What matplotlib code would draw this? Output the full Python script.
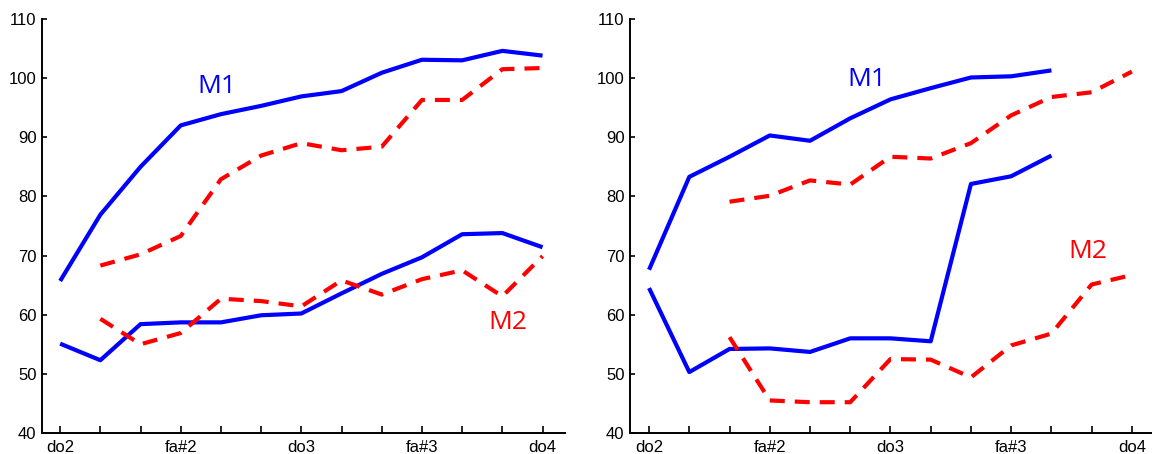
import matplotlib
matplotlib.use("Agg")
import matplotlib.pyplot as plt
import numpy as np

plt.rcParams['font.family'] = ['Liberation Sans', 'DejaVu Sans']

# whole-tone steps from do2 to do4
steps = np.arange(13)
tick_labels = ['do2', '', '', 'fa#2', '', '', 'do3', '', '', 'fa#3', '', '', 'do4']

# left panel
left_m1_solid = [65.7, 76.9, 85.0, 92.0, 93.9, 95.3, 96.9, 97.8, 100.9, 103.1, 103.0, 104.6, 103.8]
left_m1_dash = [None, 68.3, 70.2, 73.3, 82.9, 86.9, 89.0, 87.8, 88.4, 96.3, 96.3, 101.5, 101.7]
left_m2_solid = [55.1, 52.3, 58.4, 58.7, 58.7, 59.9, 60.2, 63.6, 66.9, 69.7, 73.6, 73.8, 71.4]
left_m2_dash = [None, 59.3, 55.0, 56.9, 62.7, 62.3, 61.4, 65.8, 63.4, 66.0, 67.5, 63.1, 69.9]

# right panel
right_m1_solid = [67.6, 83.3, 86.7, 90.3, 89.4, 93.2, 96.4, 98.3, 100.1, 100.3, 101.3, None, None]
right_m1_dash = [None, None, 79.1, 80.1, 82.7, 82.0, 86.7, 86.4, 89.0, 93.7, 96.8, 97.6, 101.1]
right_m2_solid = [64.5, 50.3, 54.2, 54.3, 53.7, 56.0, 56.0, 55.5, 82.1, 83.4, 86.9, None, None]
right_m2_dash = [None, None, 56.2, 45.5, 45.2, 45.2, 52.5, 52.4, 49.4, 54.8, 56.8, 65.1, 66.7]

fig = plt.figure(figsize=(11.52, 4.54), dpi=100)
ax1 = fig.add_axes([0.0365, 0.0463, 0.454, 0.912])
ax2 = fig.add_axes([0.547, 0.0463, 0.453, 0.912])


def arr(vals):
    return np.array([np.nan if v is None else v for v in vals], dtype=float)


panels = [
    (ax1, left_m1_solid, left_m1_dash, left_m2_solid, left_m2_dash,
     (3.9, 98.6), (11.15, 58.6)),
    (ax2, right_m1_solid, right_m1_dash, right_m2_solid, right_m2_dash,
     (5.42, 99.7), (10.9, 70.6)),
]

for ax, s1, d1, s2, d2, m1_pos, m2_pos in panels:
    for vals in (s1, s2):
        ax.plot(steps, arr(vals), color='#0000ff', lw=3, solid_capstyle='butt')
    for vals in (d1, d2):
        ax.plot(steps, arr(vals), color='#ff0000', lw=3, dashes=(3.6, 2.4),
                dash_capstyle='butt')
    ax.text(m1_pos[0], m1_pos[1], 'M1', color='#0000ff', fontsize=19,
            family='Open Sans', ha='center', va='center')
    ax.text(m2_pos[0], m2_pos[1], 'M2', color='#ff0000', fontsize=19,
            family='Open Sans', ha='center', va='center')

    ax.set_ylim(40, 110)
    ax.set_yticks(np.arange(40, 111, 10))
    ax.set_xticks(steps)
    ax.set_xticklabels(tick_labels)
    ax.spines['top'].set_visible(False)
    ax.spines['right'].set_visible(False)
    ax.spines['left'].set_linewidth(1.4)
    ax.spines['bottom'].set_linewidth(1.4)
    ax.tick_params(direction='in', length=5, width=1.2, labelsize=12)
    ax.tick_params(axis='x', pad=5)
    ax.tick_params(axis='y', length=3.5, pad=4)

ax1.set_xlim(-0.45, 12.56)
ax2.set_xlim(-0.47, 12.5)

fig.savefig('out.png', dpi=100)
